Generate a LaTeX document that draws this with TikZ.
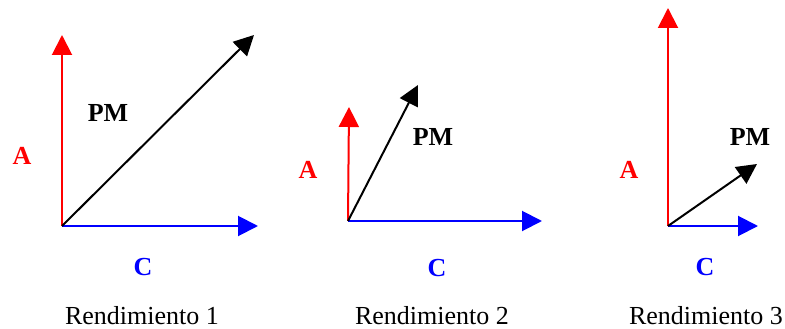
\documentclass[tikz,border=0pt]{standalone}
\usepackage{fontspec}
\setmainfont{Liberation Serif}
\usetikzlibrary{arrows.meta}
\begin{document}
\begin{tikzpicture}[x=1pt,y=-1pt,
  vec/.style={line width=2pt,-{Triangle[length=20pt,width=20pt]}},
  lbl/.style={font=\fontsize{26}{30}\selectfont\bfseries,inner sep=0pt},
  captext/.style={font=\fontsize{26}{30}\selectfont,inner sep=0pt}]
\useasboundingbox (0,0) rectangle (785,329);
% Diagram 1
\coordinate (o1) at (62,226);
\coordinate (a1) at (62,35);
\coordinate (c1) at (258,226);
\coordinate (p1) at (254,35);
\draw[vec,red] (o1) -- (a1);
\draw[vec,blue] (o1) -- (c1);
\draw[vec,black] (o1) -- (p1);
\node[lbl] (pm1) at (108,113) {PM};
\node[lbl,red] (la1) at (22,156) {A};
\node[lbl,blue] (lc1) at (143,267) {C};
\node[captext] (r1) at (142,316) {Rendimiento 1};
% Diagram 2
\coordinate (o2) at (348,221);
\coordinate (a2) at (349,107);
\coordinate (c2) at (542,221);
\coordinate (p2) at (418,85);
\draw[vec,red] (o2) -- (a2);
\draw[vec,blue] (o2) -- (c2);
\draw[vec,black] (o2) -- (p2);
\node[lbl] (pm2) at (433,137) {PM};
\node[lbl,red] (la2) at (308,170) {A};
\node[lbl,blue] (lc2) at (437,268) {C};
\node[captext] (r2) at (432,316) {Rendimiento 2};
% Diagram 3
\coordinate (o3) at (668,226);
\coordinate (a3) at (668,8);
\coordinate (c3) at (758,226);
\coordinate (p3) at (757,164);
\draw[vec,red] (o3) -- (a3);
\draw[vec,blue] (o3) -- (c3);
\draw[vec,black] (o3) -- (p3);
\node[lbl] (pm3) at (750,137) {PM};
\node[lbl,red] (la3) at (629,170) {A};
\node[lbl,blue] (lc3) at (705,267) {C};
\node[captext] (r3) at (706,316) {Rendimiento 3};
\end{tikzpicture}
\end{document}
